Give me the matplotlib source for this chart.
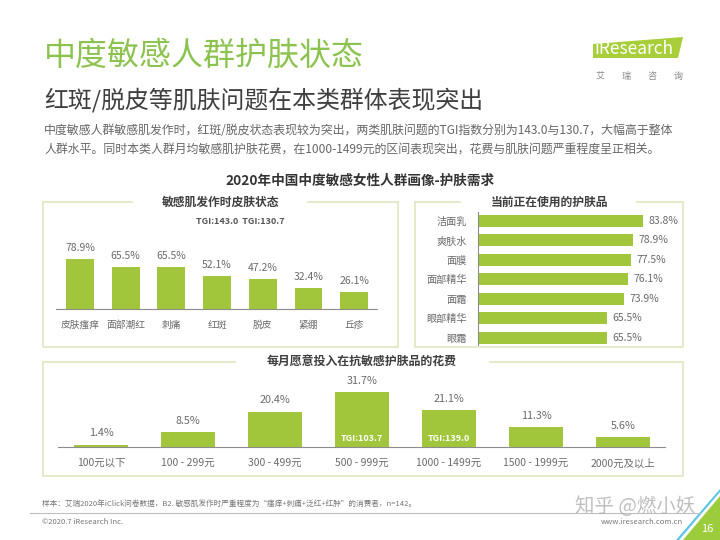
import matplotlib
matplotlib.use('Agg')
import matplotlib.pyplot as plt
from matplotlib.lines import Line2D
from matplotlib.patches import Polygon

plt.rcParams['font.family'] = ['Noto Sans CJK SC', 'DejaVu Sans']

# data
skin_states = ['皮肤瘙痒', '面部潮红', '刺痛', '红斑', '脱皮', '紧绷', '丘疹']
skin_pct = [78.9, 65.5, 65.5, 52.1, 47.2, 32.4, 26.1]

products = ['洁面乳', '爽肤水', '面膜', '面部精华', '面霜', '眼部精华', '眼霜']
product_pct = [83.8, 78.9, 77.5, 76.1, 73.9, 65.5, 65.5]

spend_ranges = ['100元以下', '100 - 299元', '300 - 499元', '500 - 999元',
                '1000 - 1499元', '1500 - 1999元', '2000元及以上']
spend_pct = [1.4, 8.5, 20.4, 31.7, 21.1, 11.3, 5.6]
spend_tgi = ['', '', '', 'TGI:103.7', 'TGI:139.0', '', '']

BAR = '#a2c63b'
GREEN_T = '#8cc34f'
GRAY = '#6b6b6b'
DARK = '#3f3f3f'
BOX = '#e4e8c6'

W, H = 720, 540
fig = plt.figure(figsize=(7.2, 5.4), dpi=100)
fig.patch.set_facecolor('white')


def ftext(x, y, s, **kw):
    # text placed in pixel coords (y from top)
    return fig.text(x / W, 1 - y / H, s, **kw)


def px_axes(x0, y0, x1, y1):
    return fig.add_axes([x0 / W, 1 - y1 / H, (x1 - x0) / W, (y1 - y0) / H])


def fline(xs, ys, **kw):
    fig.add_artist(Line2D([x / W for x in xs], [1 - y / H for y in ys],
                          transform=fig.transFigure, **kw))


def draw_box(x0, y0, x1, y1, g0, g1):
    kw = dict(color=BOX, lw=1.3)
    fline([x0, x0, x1, x1], [y0, y1, y1, y0], **kw)
    fline([x0, g0], [y0, y0], **kw)
    fline([g1, x1], [y0, y0], **kw)


def clean(ax):
    ax.set_facecolor('none')
    for s in ax.spines.values():
        s.set_visible(False)


# header
ftext(44, 56, '中度敏感人群护肤状态', fontsize=23, color=GREEN_T, va='center')
ftext(44, 101, '红斑/脱皮等肌肤问题在本类群体表现突出', fontsize=17.2, color=DARK, va='center')
ftext(44, 131, '中度敏感人群敏感肌发作时，红斑/脱皮状态表现较为突出，两类肌肤问题的TGI指数分别为143.0与130.7，大幅高于整体',
      fontsize=8.6, color='#666666', va='center')
ftext(44, 149, '人群水平。同时本类人群月均敏感肌护肤花费，在1000-1499元的区间表现突出，花费与肌肤问题严重程度呈正相关。',
      fontsize=8.6, color='#666666', va='center')

# logo
fig.add_artist(Polygon([(593 / W, 1 - 44 / H), (683 / W, 1 - 37 / H),
                        (678 / W, 1 - 58 / H), (593 / W, 1 - 58 / H)],
                       closed=True, transform=fig.transFigure,
                       facecolor='#a8cf3a', edgecolor='none'))
ftext(595, 49, 'iResearch', fontsize=12.5, color='white', va='center', ha='left')
for i, ch in enumerate('艾瑞咨询'):
    ftext(600 + i * 26, 76, ch, fontsize=6.5, color='#888888', va='center', ha='center')

ftext(360, 181, '2020年中国中度敏感女性人群画像-护肤需求', fontsize=9.8,
      fontweight='bold', color='#333333', ha='center', va='center')

# left panel: skin states
draw_box(43, 202, 398, 347, 132, 308)
ftext(221, 202, '敏感肌发作时皮肤状态', fontsize=8.5, fontweight='bold',
      color=DARK, ha='center', va='center')
ftext(240, 221, 'TGI:143.0  TGI:130.7', fontsize=6.5, fontweight='bold',
      color='#555555', ha='center', va='center')

ax1 = px_axes(56, 240, 377, 309)
clean(ax1)
x1 = list(range(len(skin_states)))
ax1.bar(x1, skin_pct, width=0.61, color=BAR)
ax1.set_xlim(-0.526, 6.50)
ax1.set_ylim(0, 108.8)
ax1.spines['bottom'].set_visible(True)
ax1.spines['bottom'].set_color('#8c8c8c')
ax1.set_yticks([])
ax1.set_xticks(x1)
ax1.set_xticklabels(skin_states, fontsize=7, color=GRAY)
ax1.tick_params(axis='x', length=0, pad=8)
for xi, v in zip(x1, skin_pct):
    ax1.annotate(f'{v:.1f}%', (xi, v), xytext=(0, 4.5), textcoords='offset points',
                 ha='center', va='bottom', fontsize=7.5, color=GRAY)

# right panel: products in use
draw_box(415, 202, 683, 347, 460, 637)
ftext(549, 202, '当前正在使用的护肤品', fontsize=8.5, fontweight='bold',
      color=DARK, ha='center', va='center')

ax2 = px_axes(478, 212, 683, 345)
clean(ax2)
y2 = list(range(len(products)))
ax2.barh(y2, product_pct, height=0.62, color=BAR)
ax2.set_xlim(0, 104.1)
ax2.set_ylim(6.38, -0.463)
ax2.spines['left'].set_visible(True)
ax2.spines['left'].set_color('#8c8c8c')
ax2.set_xticks([])
ax2.set_yticks(y2)
ax2.set_yticklabels(products, fontsize=7.3, color=GRAY)
ax2.tick_params(axis='y', length=0, pad=8)
for yi, v in zip(y2, product_pct):
    ax2.annotate(f'{v:.1f}%', (v, yi), xytext=(4, 0), textcoords='offset points',
                 ha='left', va='center', fontsize=7.5, color=GRAY)

# bottom panel: monthly spending
draw_box(43, 362, 683, 476, 235, 490)
ftext(362, 362, '每月愿意投入在抗敏感护肤品的花费', fontsize=8.6, fontweight='bold',
      color=DARK, ha='center', va='center')

ax3 = px_axes(58, 380, 665, 447)
clean(ax3)
x3 = list(range(len(spend_ranges)))
ax3.bar(x3, spend_pct, width=0.62, color=BAR)
ax3.set_xlim(-0.494, 6.483)
ax3.set_ylim(0, 38.7)
ax3.spines['bottom'].set_visible(True)
ax3.spines['bottom'].set_color('#8c8c8c')
ax3.set_yticks([])
ax3.set_xticks(x3)
ax3.set_xticklabels(spend_ranges, fontsize=7.5, color=GRAY)
ax3.tick_params(axis='x', length=0, pad=8)
for xi, v, t in zip(x3, spend_pct, spend_tgi):
    ax3.annotate(f'{v:.1f}%', (xi, v), xytext=(0, 4.5), textcoords='offset points',
                 ha='center', va='bottom', fontsize=7.8, color=GRAY)
    if t:
        ax3.annotate(t, (xi, 0), xytext=(0, 6), textcoords='offset points',
                     ha='center', va='center', fontsize=6.5, fontweight='bold',
                     color='white')

# footer
ftext(42, 505, '样本：艾瑞2020年iClick问卷数据，B2. 敏感肌发作时严重程度为“瘙痒+刺痛+泛红+红肿”的消费者，n=142。',
      fontsize=5.5, color='#777777', va='center')
fline([30, 700], [513, 513], color='#bfbfbf', lw=0.8)
ftext(42, 522, '©2020.7 iResearch Inc.', fontsize=5.5, color='#777777', va='center')
ftext(683, 522, 'www.iresearch.com.cn', fontsize=5.5, color='#777777', va='center', ha='right')
ftext(635, 507, '知乎 @燃小妖', fontsize=14, color='#b0b0b0', alpha=0.8,
      va='center', ha='center')

# page corner
fig.add_artist(Polygon([(679 / W, 0), (720 / W, 1 - 492 / H), (720 / W, 1 - 489 / H),
                        (676 / W, 0)], closed=True, transform=fig.transFigure,
                       facecolor='#5bc3e8', edgecolor='none'))
fig.add_artist(Polygon([(683 / W, 0), (720 / W, 1 - 496 / H), (720 / W, 0)],
                       closed=True, transform=fig.transFigure,
                       facecolor='#9ccc3c', edgecolor='none'))
ftext(707, 529, '16', fontsize=8, color='white', va='center', ha='center')

fig.savefig('out.png', dpi=100)
